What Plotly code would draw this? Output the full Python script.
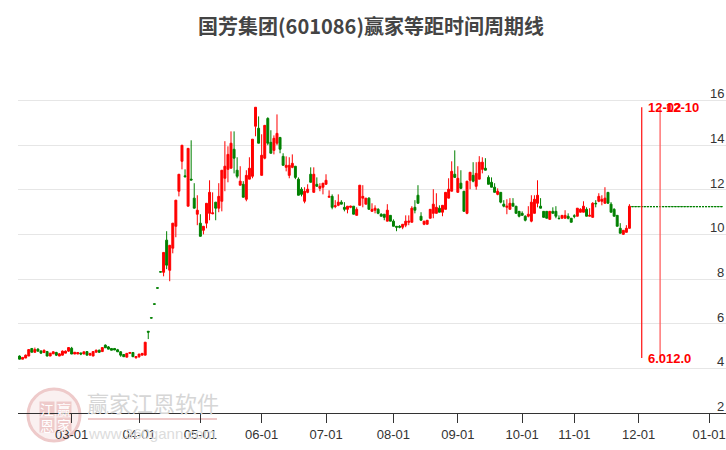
import plotly.graph_objects as go

# trading days per month, shown as MM-DD labels on a category axis
month_names = ["02", "03", "04", "05", "06", "07", "08", "09", "10", "11"]
month_counts = [17, 22, 20, 20, 21, 22, 21, 21, 17, 21]
december_days = [1, 2, 3, 4, 5, 6, 7, 10, 11, 12, 13, 14, 15, 17, 18, 19, 20, 21, 22, 24, 25, 26, 27]
january_days = [1, 2, 3, 4, 5, 6]

tick_labels = ["03-01", "04-01", "05-01", "06-01", "07-01", "08-01",
               "09-01", "10-01", "11-01", "12-01", "01-01"]
price_ticks = [2, 4, 6, 8, 10, 12, 14, 16]

open_prices = [
    4.55, 4.41, 4.46, 4.55, 4.89, 4.72, 4.86, 4.78, 4.71, 4.75,
    4.55, 4.65, 4.71, 4.55, 4.59, 4.68, 4.77, 4.90, 4.64, 4.64,
    4.69, 4.64, 4.75, 4.59, 4.55, 4.72, 4.81, 4.75, 5.04, 4.96,
    4.89, 4.89, 4.83, 4.74, 4.62, 4.50, 4.67, 4.71, 4.47, 4.52,
    4.59, 4.59, 5.66, 6.27, 6.89, 7.61, 8.33, 8.30, 9.74, 8.39,
    9.38, 10.36, 11.93, 13.27, 12.62, 11.26, 12.47, 11.62, 10.90, 10.50,
    10.18, 10.50, 10.94, 10.92, 11.44, 11.17, 11.48, 12.51, 12.91, 12.96,
    13.81, 12.87, 12.20, 12.24, 11.57, 12.47, 12.60, 14.84, 14.75, 12.64,
    13.41, 15.19, 14.12, 13.76, 14.08, 14.34, 13.49, 13.00, 12.64, 13.00,
    13.05, 12.47, 12.02, 11.48, 11.88, 12.69, 11.88, 12.24, 12.06, 12.11,
    12.24, 11.66, 11.70, 11.24, 11.30, 11.44, 11.21, 11.12, 11.21, 11.26,
    10.85, 11.30, 11.62, 11.35, 11.62, 11.03, 11.08, 11.12, 10.90, 10.90,
    10.59, 10.85, 10.59, 10.36, 10.36, 10.32, 10.41, 10.54, 10.54, 11.21,
    11.75, 10.81, 10.45, 10.45, 10.72, 10.94, 10.94, 11.17, 10.99, 11.12,
    11.62, 11.93, 12.69, 11.88, 12.29, 11.93, 10.94, 12.42, 12.64, 12.15,
    12.47, 12.91, 12.96, 12.55, 12.33, 12.11, 11.79, 11.88, 11.35, 11.21,
    11.12, 11.39, 11.26, 11.03, 10.94, 10.81, 10.81, 10.59, 10.94, 11.39,
    11.26, 11.03, 11.03, 10.67, 11.03, 11.03, 10.72, 10.72, 10.72, 10.81,
    10.72, 10.83, 10.81, 10.99, 10.99, 11.12, 10.81, 10.76, 11.39, 11.48,
    11.48, 11.39, 11.88, 11.35, 11.12, 10.85, 10.27, 10.00, 10.09, 10.27,
]
close_prices = [
    4.41, 4.49, 4.59, 4.84, 4.72, 4.84, 4.77, 4.68, 4.81, 4.55,
    4.68, 4.74, 4.59, 4.65, 4.77, 4.77, 4.93, 4.64, 4.72, 4.71,
    4.64, 4.74, 4.59, 4.67, 4.75, 4.81, 4.72, 4.93, 4.92, 4.86,
    4.81, 4.82, 4.74, 4.59, 4.52, 4.67, 4.71, 4.52, 4.53, 4.64,
    4.67, 5.17, 5.62, 6.25, 6.87, 7.59, 8.31, 9.19, 8.62, 9.51,
    10.50, 11.53, 12.69, 13.99, 12.58, 13.85, 12.43, 11.17, 11.08, 9.91,
    10.36, 11.39, 11.88, 10.96, 11.17, 11.70, 12.87, 13.05, 13.58, 14.08,
    13.41, 12.60, 12.38, 11.66, 12.64, 12.96, 14.26, 15.69, 14.08, 13.54,
    14.88, 14.08, 13.63, 14.30, 14.52, 13.81, 13.09, 13.09, 13.09, 13.18,
    12.55, 11.75, 11.79, 11.93, 12.02, 12.33, 12.69, 12.15, 12.15, 12.29,
    12.42, 11.70, 11.21, 11.28, 11.44, 11.35, 11.12, 11.26, 11.26, 10.90,
    11.12, 12.20, 11.70, 11.62, 11.12, 11.12, 11.17, 10.94, 10.81, 10.76,
    11.08, 10.59, 10.36, 10.32, 10.32, 10.45, 10.59, 10.59, 11.17, 11.08,
    11.39, 10.63, 10.59, 10.63, 11.12, 11.35, 11.21, 10.99, 11.30, 11.88,
    12.02, 12.82, 12.55, 12.51, 12.06, 11.03, 12.38, 12.78, 12.38, 12.73,
    13.23, 13.23, 12.87, 12.24, 12.11, 11.88, 11.93, 11.44, 11.26, 11.26,
    11.39, 11.26, 10.94, 10.81, 10.85, 10.63, 10.90, 11.44, 11.57, 11.75,
    11.17, 10.76, 10.72, 11.03, 10.94, 10.81, 10.70, 10.85, 10.85, 10.72,
    10.54, 10.81, 11.17, 11.12, 11.26, 10.81, 10.85, 11.39, 11.37, 11.70,
    11.57, 11.62, 11.39, 10.99, 10.81, 10.36, 10.05, 10.18, 10.27, 11.26,
]
high_prices = [
    4.58, 4.49, 4.62, 4.84, 4.90, 4.93, 4.90, 4.80, 4.84, 4.78,
    4.68, 4.76, 4.74, 4.68, 4.80, 4.80, 4.93, 4.96, 4.72, 4.71,
    4.69, 4.74, 4.75, 4.67, 4.75, 4.84, 4.84, 4.93, 5.07, 5.00,
    4.89, 4.89, 4.87, 4.77, 4.62, 4.67, 4.72, 4.71, 4.53, 4.64,
    4.67, 5.17, 5.66, 6.27, 6.89, 7.61, 8.33, 9.19, 10.14, 9.51,
    10.50, 11.53, 12.69, 13.99, 12.91, 13.85, 14.21, 12.29, 11.75, 10.90,
    10.36, 11.39, 12.42, 11.88, 11.44, 12.29, 12.87, 14.17, 13.94, 14.61,
    14.61, 13.45, 13.05, 12.38, 12.87, 13.45, 14.26, 15.69, 15.28, 14.48,
    14.88, 15.24, 14.66, 14.43, 15.37, 14.34, 13.63, 13.49, 13.45, 13.58,
    13.05, 12.55, 12.11, 12.11, 12.24, 13.00, 13.00, 12.55, 12.29, 12.29,
    12.69, 11.97, 11.79, 11.53, 11.79, 11.53, 11.44, 11.26, 11.28, 11.26,
    11.21, 12.20, 12.20, 11.62, 11.66, 11.39, 11.30, 11.17, 10.94, 10.90,
    11.35, 10.85, 10.67, 10.36, 10.41, 10.45, 10.85, 10.85, 11.26, 11.53,
    12.20, 10.99, 10.59, 10.63, 11.12, 12.02, 11.84, 11.30, 11.30, 11.88,
    12.51, 13.27, 13.76, 13.05, 12.87, 11.93, 12.38, 12.78, 13.23, 13.23,
    13.50, 13.45, 13.41, 12.64, 12.55, 12.29, 12.06, 11.88, 11.53, 11.57,
    11.62, 11.62, 11.26, 11.03, 11.03, 10.85, 11.26, 11.75, 11.75, 12.42,
    11.62, 11.03, 11.03, 11.03, 11.21, 11.26, 10.85, 10.85, 11.08, 10.94,
    10.72, 10.90, 11.17, 11.17, 11.48, 11.21, 11.17, 11.44, 11.53, 11.84,
    11.75, 12.11, 11.88, 11.44, 11.17, 10.85, 10.50, 10.18, 10.41, 11.35,
]
low_prices = [
    4.40, 4.41, 4.46, 4.55, 4.72, 4.70, 4.75, 4.66, 4.68, 4.54,
    4.55, 4.64, 4.55, 4.55, 4.58, 4.68, 4.74, 4.64, 4.64, 4.64,
    4.59, 4.64, 4.59, 4.59, 4.55, 4.72, 4.69, 4.75, 4.92, 4.86,
    4.81, 4.82, 4.74, 4.52, 4.52, 4.50, 4.67, 4.52, 4.44, 4.47,
    4.59, 4.59, 5.31, 6.25, 6.87, 7.59, 8.31, 8.12, 8.44, 7.90,
    9.15, 9.87, 11.70, 12.91, 12.55, 11.26, 12.43, 11.17, 10.41, 9.91,
    10.00, 10.27, 10.63, 10.90, 10.63, 10.99, 11.03, 11.93, 12.33, 12.96,
    12.73, 12.51, 12.20, 11.66, 11.48, 12.47, 12.51, 14.39, 14.08, 12.64,
    13.36, 13.99, 13.63, 13.58, 13.99, 13.63, 13.09, 12.82, 12.51, 12.96,
    12.47, 11.75, 11.70, 11.39, 11.84, 12.33, 11.88, 12.15, 11.93, 11.79,
    12.24, 11.66, 11.12, 11.17, 11.26, 11.35, 11.03, 10.94, 11.17, 10.90,
    10.85, 11.30, 11.21, 11.35, 11.12, 11.03, 10.94, 10.90, 10.81, 10.63,
    10.59, 10.59, 10.36, 10.14, 10.27, 10.23, 10.32, 10.41, 10.54, 10.94,
    11.39, 10.63, 10.41, 10.45, 10.72, 10.72, 10.94, 10.99, 10.81, 11.12,
    11.62, 11.93, 12.55, 11.88, 12.02, 11.03, 10.90, 12.02, 12.33, 12.00,
    12.47, 12.73, 12.87, 12.24, 12.11, 11.88, 11.75, 11.39, 11.21, 10.90,
    11.12, 11.26, 10.94, 10.76, 10.85, 10.58, 10.76, 10.54, 10.94, 11.21,
    11.17, 10.76, 10.72, 10.67, 10.94, 10.72, 10.70, 10.72, 10.72, 10.67,
    10.54, 10.72, 10.81, 10.99, 10.99, 10.81, 10.81, 10.76, 11.21, 11.44,
    11.30, 11.39, 11.39, 10.99, 10.81, 10.36, 10.05, 9.98, 10.09, 10.27,
]

# flat days after the last close, drawn as a dashed run of dojis
future_price = 11.24
future_count = 30

cycle_dates = ["12-02", "12-10"]
cycle_spans = ["6.0", "12.0"]
cycle_colors = ["#ff2020", "#ff6060"]
cycle_top = 15.69
cycle_bottom = 4.46

# category labels
dates = []
for name, count in zip(month_names, month_counts):
    dates += [f"{name}-{d + 1:02d}" for d in range(count)]
dates += [f"12-{d:02d}" for d in december_days]
dates += [f"01-{d:02d}" for d in january_days]

n_days = len(open_prices)
future_dates = dates[n_days:n_days + future_count]
future_values = [future_price] * future_count

fig = go.Figure()

fig.add_trace(go.Candlestick(
    x=dates[:n_days],
    open=open_prices, high=high_prices, low=low_prices, close=close_prices,
    increasing=dict(line=dict(color="#ff0000", width=1), fillcolor="#ff0000"),
    decreasing=dict(line=dict(color="#008000", width=1), fillcolor="#008000"),
    whiskerwidth=0,
    showlegend=False,
))
fig.add_trace(go.Candlestick(
    x=future_dates,
    open=future_values, high=future_values, low=future_values, close=future_values,
    increasing=dict(line=dict(color="#008000", width=1), fillcolor="#008000"),
    decreasing=dict(line=dict(color="#008000", width=1), fillcolor="#008000"),
    whiskerwidth=0,
    showlegend=False,
))

for date, color in zip(cycle_dates, cycle_colors):
    fig.add_trace(go.Scatter(
        x=[date, date], y=[cycle_bottom, cycle_top],
        mode="lines",
        line=dict(color=color, width=1.3),
        showlegend=False,
    ))


# "paper" coordinates run over the plot area only (x 18-726, y 78-413 on the page)
def page_x(px):
    return (px - 18) / 708


def page_y(py):
    return (413 - py) / 335


annotations = []

# watermark: seal, name, web address
seal_red = "#eecaca"
seal_text = [("江", 47, 409), ("赢", 64, 409), ("恩", 47, 425), ("家", 64, 425)]
for char, px, py in seal_text:
    annotations.append(dict(
        x=page_x(px), y=page_y(py), xref="paper", yref="paper",
        text=char, showarrow=False,
        font=dict(family="Noto Sans CJK SC", size=14, color="#ffffff"),
        xanchor="center", yanchor="middle",
    ))
annotations.append(dict(
    x=page_x(153), y=page_y(402), xref="paper", yref="paper",
    text="赢家江恩软件", showarrow=False,
    font=dict(family="Noto Sans CJK SC", size=22, color="#d6d6d6"),
    xanchor="center", yanchor="middle",
))
annotations.append(dict(
    x=page_x(152), y=page_y(433), xref="paper", yref="paper",
    text="www.360gann.com", showarrow=False,
    font=dict(family="Liberation Sans", size=15, color="#dcdcdc"),
    xanchor="center", yanchor="middle",
))

# price labels sit just above their gridlines, inside the right edge
for value in price_ticks:
    annotations.append(dict(
        x=1, xref="paper", y=value, yref="y", xshift=-1, yshift=-2,
        text=str(value), showarrow=False,
        font=dict(family="Liberation Sans", size=13, color="#333333"),
        xanchor="right", yanchor="bottom", borderpad=0,
    ))

for date, span in zip(cycle_dates, cycle_spans):
    annotations.append(dict(
        x=date, y=cycle_top, xref="x", yref="y", xshift=4,
        text=f"<b>{date}</b>", showarrow=False,
        font=dict(family="Liberation Sans", size=13, color="#ff0000"),
        xanchor="left", yanchor="middle",
    ))
    annotations.append(dict(
        x=date, y=cycle_bottom, xref="x", yref="y", xshift=4,
        text=f"<b>{span}</b>", showarrow=False,
        font=dict(family="Liberation Sans", size=13, color="#ff0000"),
        xanchor="left", yanchor="middle",
    ))

shapes = [
    dict(type="circle", xref="paper", yref="paper", layer="below",
         x0=page_x(28), x1=page_x(80), y0=page_y(441), y1=page_y(389),
         fillcolor="#faf0f0", line=dict(color=seal_red, width=3)),
    dict(type="rect", xref="paper", yref="paper", layer="below",
         x0=page_x(88), x1=page_x(217), y0=page_y(420), y1=page_y(418),
         fillcolor=seal_red, line=dict(width=0)),
]
for char, px, py in seal_text:
    shapes.append(dict(
        type="rect", xref="paper", yref="paper", layer="below",
        x0=page_x(px - 7.5), x1=page_x(px + 7.5), y0=page_y(py + 7.5), y1=page_y(py - 7.5),
        fillcolor=seal_red, line=dict(width=0),
    ))

fig.update_layout(
    width=726, height=450,
    margin=dict(l=18, r=0, t=78, b=37),
    paper_bgcolor="#ffffff", plot_bgcolor="#ffffff",
    boxgap=0.1,
    title=dict(
        text="<b>国芳集团(601086)赢家等距时间周期线</b>",
        x=371 / 726, xanchor="center", y=1 - 27 / 450, yanchor="middle",
        font=dict(family="Noto Sans CJK SC", size=20, color="#444444"),
    ),
    xaxis=dict(
        type="category", categoryorder="array", categoryarray=dates,
        range=[-0.5, len(dates) - 0.5],
        rangeslider=dict(visible=False),
        tickmode="array", tickvals=tick_labels, ticktext=tick_labels,
        ticks="outside", ticklen=9, tickwidth=1, tickcolor="#333333",
        showline=True, linecolor="#333333", linewidth=1,
        showgrid=False, zeroline=False,
        tickfont=dict(family="Liberation Sans", size=13, color="#333333"),
    ),
    yaxis=dict(
        range=[2, 17],
        tickmode="array", tickvals=price_ticks,
        showticklabels=False, ticks="",
        showgrid=True, gridcolor="#e6e6e6", gridwidth=1,
        zeroline=False, showline=False, fixedrange=True,
    ),
    annotations=annotations,
    shapes=shapes,
)

# the page's default body margin would push the figure 8px off
fig.write_html("out.html", config=dict(displayModeBar=False),
               post_script="document.body.style.margin='0';")
